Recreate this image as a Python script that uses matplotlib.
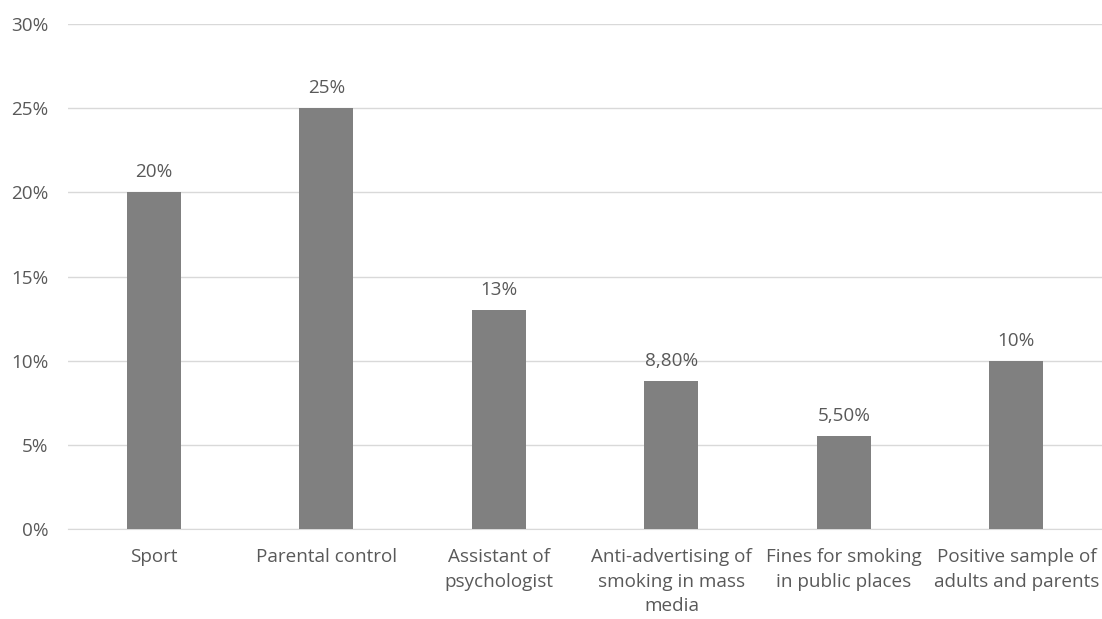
import numpy as np
import matplotlib.pyplot as plt

plt.rcParams['font.family'] = ['Open Sans', 'DejaVu Sans']

categories = ['Sport', 'Parental control', 'Assistant of\npsychologist',
              'Anti-advertising of\nsmoking in mass\nmedia',
              'Fines for smoking\nin public places',
              'Positive sample of\nadults and parents']
values = [20, 25, 13, 8.8, 5.5, 10]
labels = ['20%', '25%', '13%', '8,80%', '5,50%', '10%']
yticks = [0, 5, 10, 15, 20, 25, 30]

text_col = '#595959'
fs = 13.6

fig = plt.figure(figsize=(11.02, 6.19), dpi=100)
ax = fig.add_axes([0.0615, 0.1454, 0.939, 0.8157])

x = np.arange(len(categories))
ax.bar(x, values, width=0.313, color='#808080', zorder=3)
for xi, v, lab in zip(x, values, labels):
    ax.annotate(lab, (xi, v), xytext=(0, 8), textcoords='offset points',
                ha='center', va='bottom', fontsize=fs, color=text_col)

ax.set_xlim(-0.5, 5.5)
ax.set_ylim(0, 30)
ax.set_yticks(yticks)
ax.set_yticklabels([f'{t}%' for t in yticks])
ax.set_xticks(x)
ax.set_xticklabels(categories, linespacing=1.45)
ax.tick_params(axis='both', length=0, labelsize=fs, labelcolor=text_col)
ax.tick_params(axis='y', pad=14)
ax.tick_params(axis='x', pad=14)
ax.yaxis.grid(True, color='#d9d9d9', linewidth=1, zorder=0)
for s in ['top', 'right', 'left']:
    ax.spines[s].set_visible(False)
ax.spines['bottom'].set_color('#d9d9d9')

fig.savefig('out.png', dpi=100)
